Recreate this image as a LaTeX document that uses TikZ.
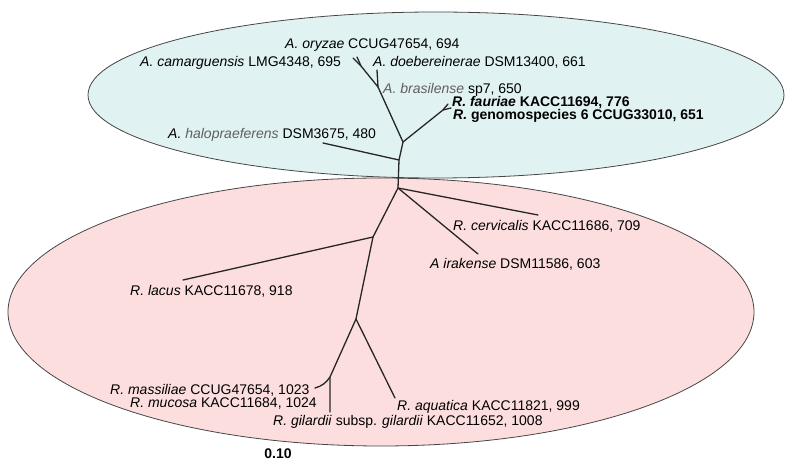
\documentclass[tikz,border=0pt]{standalone}
\usepackage{fontspec}
\setmainfont{Liberation Sans}
\definecolor{topfill}{RGB}{225,242,243}
\definecolor{botfill}{RGB}{253,222,222}
\definecolor{rimcol}{RGB}{70,70,70}
\definecolor{graytxt}{RGB}{95,95,95}
\begin{document}
\begin{tikzpicture}[x=1pt,y=-1pt,
  lbl/.style={anchor=west,inner sep=0pt,text height=10pt,text depth=2.5pt,font=\fontsize{14}{16}\selectfont},
  bold/.style={lbl,font=\fontsize{14}{16}\selectfont\bfseries},
  branch/.style={line width=1.3pt,draw=black!85,line cap=round},
  group/.style={draw=rimcol,line width=0.8pt}]
\useasboundingbox (0,0) rectangle (785,462);
\fill[white] (0,0) rectangle (785,462);
% groups
\draw[group,fill=botfill] (381,312) ellipse [x radius=373pt, y radius=134pt];
\draw[group,fill=topfill] (436,95) ellipse [x radius=348pt, y radius=83pt];
% tree points
\coordinate (R) at (398,188);
\coordinate (a) at (399,160);
\coordinate (b) at (403,142);
\coordinate (c) at (378,87);
\coordinate (d) at (361,66);
\coordinate (d1) at (357,57);
\coordinate (d2) at (353,58);
\coordinate (dob) at (377,70);
\coordinate (e) at (443,110);
\coordinate (e1) at (448,104);
\coordinate (e2) at (451,108);
\coordinate (hal) at (323,143);
\coordinate (cer) at (538,215);
\coordinate (ira) at (478,254);
\coordinate (J2) at (373,237);
\coordinate (lac) at (183,280);
\coordinate (J3) at (356,319);
\coordinate (J4) at (330,377);
\coordinate (aqu) at (395,398);
\coordinate (gil) at (330,412);
\coordinate (mas) at (315,388);
% branches
\draw[branch] (R) -- (a) -- (b) -- (c) -- (d) -- (d1);
\draw[branch] (d) -- (d2);
\draw[branch] (c) -- (dob);
\draw[branch] (b) -- (e) -- (e1);
\draw[branch] (e) -- (e2);
\draw[branch] (a) -- (hal);
\draw[branch] (R) -- (cer);
\draw[branch] (R) -- (ira);
\draw[branch] (R) -- (J2) -- (lac);
\draw[branch] (J2) -- (J3) -- (J4) -- (gil);
\draw[branch] (J4) to[bend left=20] (mas);
\draw[branch] (J3) -- (aqu);
% labels
\node[lbl] (Loryz) at (285,45) {\textit{A. oryzae} CCUG47654, 694};
\node[lbl] (Lcam) at (140,63) {\textit{A. camarguensis} LMG4348, 695};
\node[lbl] (Ldob) at (373,63) {\textit{A. doebereinerae} DSM13400, 661};
\node[lbl] (Lbra) at (383,90) {\textcolor{graytxt}{\textit{A. brasilense}} sp7, 650};
\node[bold] (Lfau) at (452,103) {\textit{R. fauriae} KACC11694, 776};
\node[bold] (Lgen) at (453,116) {\textit{R.} genomospecies 6 CCUG33010, 651};
\node[lbl] (Lhal) at (168,135) {\textit{A. \textcolor{graytxt}{halopraeferens}} DSM3675, 480};
\node[lbl] (Lcer) at (453,227) {\textit{R. cervicalis} KACC11686, 709};
\node[lbl] (Lira) at (430,265) {\textit{A irakense} DSM11586, 603};
\node[lbl] (Llac) at (130,292) {\textit{R. lacus} KACC11678, 918};
\node[lbl] (Lmas) at (110,391) {\textit{R. massiliae} CCUG47654, 1023};
\node[lbl] (Lmuc) at (130,404) {\textit{R. mucosa} KACC11684, 1024};
\node[lbl] (Lgil) at (273,422) {\textit{R. gilardii} subsp. \textit{gilardii} KACC11652, 1008};
\node[lbl] (Laqu) at (397,407) {\textit{R. aquatica} KACC11821, 999};
\node[bold,anchor=center] (Lscale) at (278,455) {0.10};
\end{tikzpicture}
\end{document}
